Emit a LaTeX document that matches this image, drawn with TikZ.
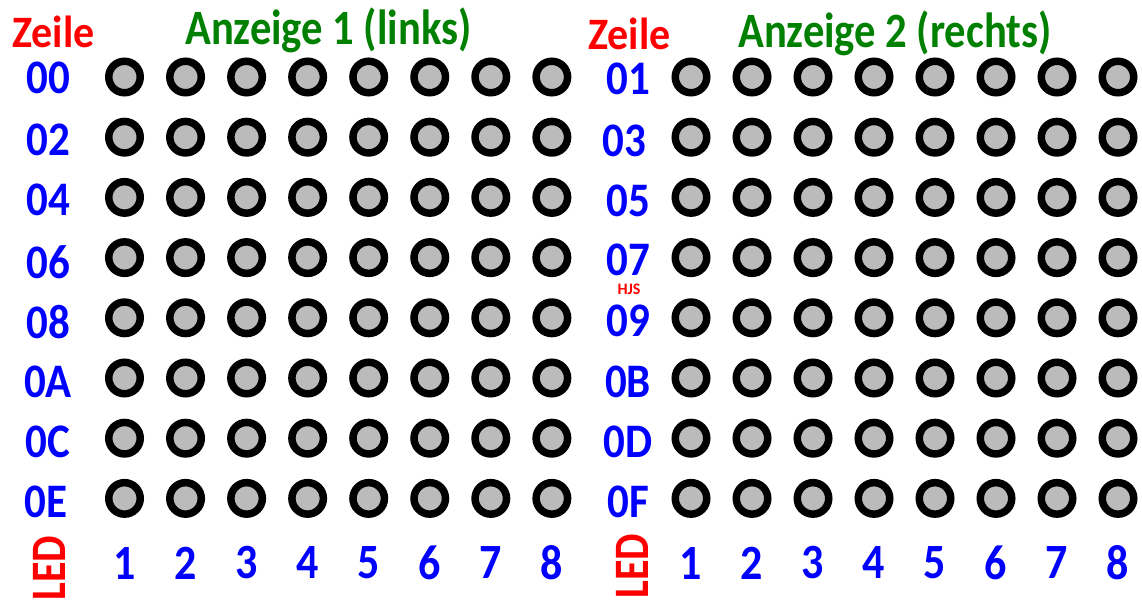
\documentclass[tikz,border=0pt]{standalone}
\usepackage{fontspec}
\usepackage{graphicx}
\setmainfont{Carlito}
\definecolor{ledgray}{RGB}{187,187,187}
\definecolor{ttlgreen}{RGB}{0,128,0}
\definecolor{lblblue}{RGB}{0,0,255}
\definecolor{lblred}{RGB}{255,0,0}
\newcommand{\tallA}[1]{\scalebox{1}[1.12]{#1}}
\newcommand{\tallB}[1]{\scalebox{1}[1.16]{#1}}
\newcommand{\tallC}[1]{\scalebox{1}[1.18]{#1}}
\begin{document}
\begin{tikzpicture}[x=1pt,y=-1pt,
  led/.style={circle,draw=black,line width=7.5pt,fill=ledgray,minimum size=31.5pt,inner sep=0pt},
  rowlbl/.style={text=lblblue,font=\bfseries\fontsize{43}{43}\selectfont,inner sep=0pt},
  collbl/.style={text=lblblue,font=\bfseries\fontsize{44}{44}\selectfont,inner sep=0pt},
  zeile/.style={text=lblred,font=\bfseries\fontsize{42}{42}\selectfont,inner sep=0pt,anchor=base west},
  ttl/.style={text=ttlgreen,font=\bfseries\fontsize{42.6}{42.6}\selectfont,inner sep=0pt,anchor=base west},
  ledlbl/.style={text=lblred,font=\bfseries\fontsize{42}{42}\selectfont,inner sep=0pt,rotate=90},
  sig/.style={text=lblred,font=\bfseries\fontsize{16}{16}\selectfont,inner sep=0pt}]
\useasboundingbox (0,0) rectangle (1142,601);
% titles
\node[zeile] (zl) at (12,48) {\scalebox{1}[1.07]{Zeile}};
\node[zeile] (zr) at (588,50) {\scalebox{1}[1.07]{Zeile}};
\node[ttl] (tl) at (185,45) {\tallB{Anzeige 1 (links)}};
\node[ttl] (tr) at (738,48) {\tallB{Anzeige 2 (rechts)}};
% LED grids
\foreach \i in {0,...,7}{
  \foreach \j in {0,...,7}{
    \node[led] (L-\i-\j) at ({124.5+61.05*\j},{77+60.2*\i}) {};
    \node[led] (R-\i-\j) at ({691+61*\j},{77+60.2*\i}) {};
  }
}
% row labels left
\node[rowlbl] (l0) at (48,78) {\tallA{00}};
\node[rowlbl] (l1) at (48,140) {\tallA{02}};
\node[rowlbl] (l2) at (48,200) {\tallA{04}};
\node[rowlbl] (l3) at (48,262) {\tallA{06}};
\node[rowlbl] (l4) at (48,322) {\tallA{08}};
\node[rowlbl] (l5) at (48,382) {\tallA{0A}};
\node[rowlbl] (l6) at (48,442) {\tallA{0C}};
\node[rowlbl] (l7) at (46,502) {\tallA{0E}};
% row labels right
\node[rowlbl] (r0) at (628,79) {\tallA{01}};
\node[rowlbl] (r1) at (624,141) {\tallA{03}};
\node[rowlbl] (r2) at (628,201) {\tallA{05}};
\node[rowlbl] (r3) at (628,260) {\tallA{07}};
\node[rowlbl] (r4) at (628,321) {\tallA{09}};
\node[rowlbl] (r5) at (628,382) {\tallA{0B}};
\node[rowlbl] (r6) at (628,442) {\tallA{0D}};
\node[rowlbl] (r7) at (628,502) {\tallA{0F}};
\node[sig] (hjs) at (629,289) {HJS};
% column numbers
\foreach \j in {1,...,8}{
  \node[collbl] (cl\j) at ({124.5+61.05*(\j-1)},563) {\tallA{\j}};
  \node[collbl] (cr\j) at ({691+61*(\j-1)},563) {\tallA{\j}};
}
\node[ledlbl] (ledl) at (49,568) {\tallC{LED}};
\node[ledlbl] (ledr) at (632,566) {\tallC{LED}};
\end{tikzpicture}
\end{document}
